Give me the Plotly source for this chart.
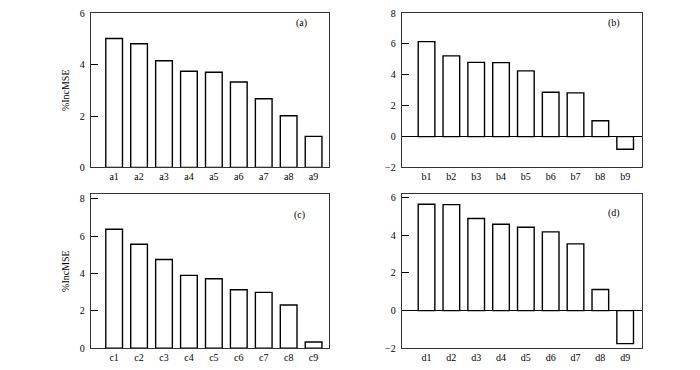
import plotly.graph_objects as go

cats_a = ["a1", "a2", "a3", "a4", "a5", "a6", "a7", "a8", "a9"]
cats_b = ["b1", "b2", "b3", "b4", "b5", "b6", "b7", "b8", "b9"]
cats_c = ["c1", "c2", "c3", "c4", "c5", "c6", "c7", "c8", "c9"]
cats_d = ["d1", "d2", "d3", "d4", "d5", "d6", "d7", "d8", "d9"]

vals_a = [5.01, 4.81, 4.15, 3.74, 3.70, 3.32, 2.67, 2.01, 1.21]
vals_b = [6.15, 5.23, 4.81, 4.79, 4.26, 2.87, 2.83, 1.03, -0.82]
vals_c = [6.37, 5.57, 4.75, 3.90, 3.72, 3.13, 2.99, 2.31, 0.33]
vals_d = [5.66, 5.64, 4.90, 4.59, 4.43, 4.19, 3.55, 1.12, -1.76]

panel_labels = ["(a)", "(b)", "(c)", "(d)"]

FONT = "Liberation Serif"
W, H = 700, 370

panels = [
    (cats_a, vals_a, (90.7, 329.3), (8.3, 167), [0, 6], [-0.94, 8.63], (301, 19), True),
    (cats_b, vals_b, (401.7, 642.3), (8.3, 167), [-2, 8], [-1.0, 8.69], (614, 19), False),
    (cats_c, vals_c, (90.7, 329.3), (194.3, 352.7), [0, 8.26], [-0.94, 8.63], (299, 216), True),
    (cats_d, vals_d, (401.7, 642.3), (194.3, 352.7), [-2, 6.2], [-1.0, 8.69], (614, 214), False),
]


def px(v):
    return v / W


def py(v):
    return 1 - v / H


fig = go.Figure()
annotations = []
for i, (cats, vals, xd, yd, yr, xr, lp, ytitle) in enumerate(panels):
    n = "" if i == 0 else str(i + 1)
    fig.add_trace(go.Bar(
        x=cats, y=vals, xaxis="x" + n, yaxis="y" + n,
        width=0.67,
        marker=dict(color="white", line=dict(color="black", width=1.4)),
        showlegend=False,
    ))
    xa = dict(
        domain=[px(xd[0]), px(xd[1])], anchor="y" + n,
        range=xr, type="category",
        showline=True, linecolor="#333", linewidth=1, mirror=True,
        ticks="", showgrid=False, zeroline=False,
        tickfont=dict(family=FONT, size=10, color="black"),
        fixedrange=True,
    )
    ya = dict(
        domain=[py(yd[1]), py(yd[0])], anchor="x" + n,
        range=yr, dtick=2,
        showline=True, linecolor="#333", linewidth=1, mirror=True,
        ticks="inside", ticklen=7, tickcolor="black", tickwidth=1,
        showgrid=False,
        zeroline=True, zerolinecolor="black", zerolinewidth=1,
        tickfont=dict(family=FONT, size=10, color="black"),
        ticklabelstandoff=3,
    )
    if ytitle:
        ya["title"] = dict(text="%IncMSE", font=dict(family=FONT, size=10, color="black"), standoff=8)
    fig.update_layout(**{"xaxis" + n: xa, "yaxis" + n: ya})
    annotations.append(dict(
        text=panel_labels[i], x=px(lp[0]), y=py(lp[1]),
        xref="paper", yref="paper", showarrow=False,
        xanchor="center", yanchor="middle",
        font=dict(family=FONT, size=10, color="black"),
    ))

fig.update_layout(
    width=W, height=H,
    margin=dict(l=0, r=0, t=0, b=0),
    paper_bgcolor="white", plot_bgcolor="white",
    annotations=annotations,
)

fig.write_html(
    "out.html",
    config={"displayModeBar": False},
    post_script="document.body.style.margin='0';",
)
